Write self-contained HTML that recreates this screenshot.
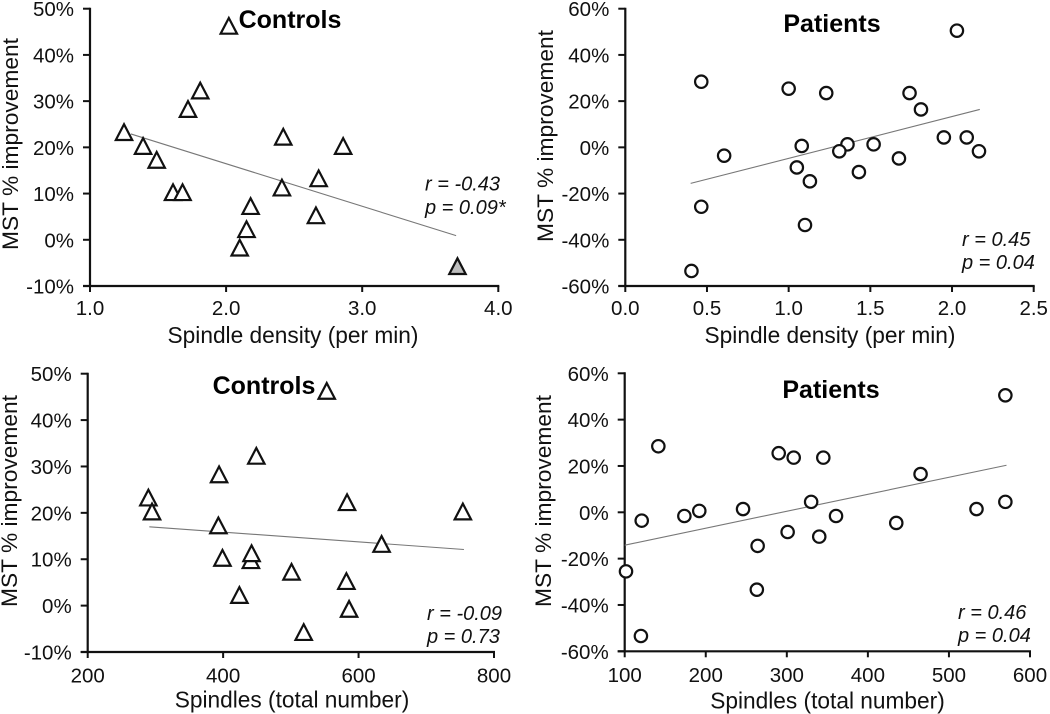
<!DOCTYPE html>
<html lang="en">
<head>
<meta charset="utf-8">
<title>Spindle measures vs MST improvement</title>
<style>
html,body{margin:0;padding:0;background:#fff;width:1050px;height:714px;overflow:hidden}
svg{display:block;font-family:"Liberation Sans",Arial,sans-serif;fill:#111}
</style>
</head>
<body>
<svg id="chart" xmlns="http://www.w3.org/2000/svg" width="1050" height="714" viewBox="0 0 1050 714"></svg>
<script>
// ---- data ----
const densityControlsX = [1.25,1.39,1.49,1.61,1.68,1.72,1.81,2.02,2.10,2.15,2.18,2.41,2.42,2.66,2.68,2.86,3.70];
const densityControlsY = [23,20,17,10,10,28,32,46,-2,2,7,11,22,5,13,20,-6];
const densityControlsTrendX = [1.30,3.69];
const densityControlsTrendY = [22.9,0.9];
const densityControlsHighlighted = [3.70];

const densityPatientsX = [2.03,0.465,1.00,1.23,1.74,1.81,1.95,2.09,2.165,1.52,1.36,1.31,1.08,0.605,1.675,1.05,1.43,1.13,0.465,1.10,0.405];
const densityPatientsY = [50.5,28.4,25.4,23.5,23.5,16.4,4.3,4.3,-1.7,1.3,1.3,-1.7,0.6,-3.6,-4.8,-8.7,-10.7,-14.7,-25.7,-33.6,-53.5];
const densityPatientsTrendX = [0.40,2.17];
const densityPatientsTrendY = [-15.6,16.4];

const totalControlsX = [289.6,295,393,399,441,442,394,449,553,586,424,501,582,583,634,754,519];
const totalControlsY = [23,20,17,10,9.5,11,28,32,46,-1,2,7,5,22,13,20,-6];
const totalControlsTrendX = [291,755.6];
const totalControlsTrendY = [17,12.1];

const totalPatientsX = [569.6,141.5,290,308.5,345,465,330,569.6,534,246,192,173.6,360.7,121,435,301,340,264,101.6,263,120];
const totalPatientsY = [50.5,28.5,25.5,23.6,23.6,16.5,4.5,4.5,1.4,1.4,0.6,-1.6,-1.6,-3.6,-4.6,-8.5,-10.5,-14.5,-25.5,-33.4,-53.4];
const totalPatientsTrendX = [100,571];
const totalPatientsTrendY = [-14.2,20.3];

const controlsYTicks = [-10,0,10,20,30,40,50];
const patientsYTicks = [-60,-40,-20,0,20,40,60];
const densityControlsXTicks = [1,2,3,4];
const densityPatientsXTicks = [0,0.5,1,1.5,2,2.5];
const totalControlsXTicks = [200,400,600,800];
const totalPatientsXTicks = [100,200,300,400,500,600];

const svg = document.getElementById('chart');
const NS = 'http://www.w3.org/2000/svg';

function make(tag, attrs, parent, text) {
  const el = document.createElementNS(NS, tag);
  for (const k in attrs) el.setAttribute(k, attrs[k]);
  if (text !== undefined) el.textContent = text;
  parent.appendChild(el);
  return el;
}

function drawPanel(p) {
  const g = make('g', {}, svg);
  
  

  const sx = v => p.left + (v - p.xMin) / (p.xMax - p.xMin) * (p.right - p.left);
  const sy = v => p.bottom - (v - p.yMin) / (p.yMax - p.yMin) * (p.bottom - p.top);

  // axes
  const xAxis = make('line', {x1:p.left-7, x2:p.right+1, y1:p.bottom, y2:p.bottom, stroke:'#111', 'stroke-width':2.2}, g);
  
  
  const yAxis = make('line', {x1:p.left, x2:p.left, y1:p.top-1, y2:p.bottom+1, stroke:'#111', 'stroke-width':2.2}, g);
  
  

  p.yTicks.forEach(v => {
    const y = sy(v);
    const t = make('line', {x1:p.left-7, x2:p.left, y1:y, y2:y, stroke:'#111', 'stroke-width':2}, g);
    
    
    const lab = make('text', {x:p.left-16, y:y+7.5, 'text-anchor':'end', 'font-size':20.5}, g, v + '%');
    
    
  });
  p.xTicks.forEach(v => {
    const x = sx(v);
    const t = make('line', {x1:x, x2:x, y1:p.bottom, y2:p.bottom+6, stroke:'#111', 'stroke-width':2}, g);
    
    
    const lab = make('text', {x:x+p.xLabelShift, y:p.bottom+p.xLabelGap, 'text-anchor':'middle', 'font-size':20.5}, g, v.toFixed(p.xDecimals));
    
    
  });

  // titles
  const xt = make('text', {x:p.xTitleX, y:p.xTitleY, 'text-anchor':'middle', 'font-size':22.7}, g, p.xTitle);
  
  
  const yt = make('text', {x:0, y:0, 'text-anchor':'middle', 'font-size':22.5, textLength:212, lengthAdjust:'spacingAndGlyphs', transform:`translate(${p.yTitleX},${p.yTitleY}) rotate(-90)`}, g, 'MST % improvement');
  
  
  const title = make('text', {x:p.titleX, y:p.titleY, 'text-anchor':'middle', 'font-size':25, 'font-weight':'bold', fill:'#000'}, g, p.title);
  
  

  // trend line
  const trend = make('line', {x1:sx(p.trendX[0]), y1:sy(p.trendY[0]), x2:sx(p.trendX[1]), y2:sy(p.trendY[1]), stroke:'#777', 'stroke-width':1.1}, g);
  
  

  // points
  p.xs.forEach((xv, i) => {
    const cx = sx(xv), cy = sy(p.ys[i]);
    let mark;
    if (p.shape === 'triangle') {
      const fill = (p.highlighted || []).includes(xv) ? '#bdbdbd' : '#fff';
      const pts = [[cx, cy-9.2],[cx-8.2, cy+6.5],[cx+8.2, cy+6.5]].map(a => a.join(',')).join(' ');
      mark = make('polygon', {points:pts, fill:fill, stroke:'#111', 'stroke-width':2.2, 'stroke-linejoin':'miter'}, g);
    } else {
      mark = make('circle', {cx:cx, cy:cy, r:6.2, fill:'#fff', stroke:'#111', 'stroke-width':2.2}, g);
    }
    
    
  });

  // stats
  const r = make('text', {x:p.statX, y:p.statY1, 'font-size':20, 'font-style':'italic'}, g, p.statR);
  
  
  const pv = make('text', {x:p.statX, y:p.statY2, 'font-size':20, 'font-style':'italic'}, g, p.statP);
  
  
}

drawPanel({
  name:'controls-density-panel', title:'Controls', xTitle:'Spindle density (per min)', shape:'triangle',
  xs:densityControlsX, ys:densityControlsY, trendX:densityControlsTrendX, trendY:densityControlsTrendY,
  highlighted:densityControlsHighlighted, xTicks:densityControlsXTicks, yTicks:controlsYTicks, xDecimals:1,
  left:90, right:498.3, top:8.7, bottom:286, xMin:1, xMax:4, yMin:-10, yMax:50,
  xLabelShift:0, xLabelGap:29, xTitleX:293, xTitleY:343, yTitleX:18, yTitleY:144,
  titleX:290, titleY:28, statX:425, statY1:190.5, statY2:214, statR:'r = -0.43', statP:'p = 0.09*'
});
drawPanel({
  name:'patients-density-panel', title:'Patients', xTitle:'Spindle density (per min)', shape:'circle',
  xs:densityPatientsX, ys:densityPatientsY, trendX:densityPatientsTrendX, trendY:densityPatientsTrendY,
  xTicks:densityPatientsXTicks, yTicks:patientsYTicks, xDecimals:1,
  left:625.3, right:1033.7, top:8.7, bottom:286, xMin:0, xMax:2.5, yMin:-60, yMax:60,
  xLabelShift:0, xLabelGap:29, xTitleX:830, xTitleY:343, yTitleX:553, yTitleY:136,
  titleX:832, titleY:32, statX:962, statY1:246, statY2:269, statR:'r = 0.45', statP:'p = 0.04'
});
drawPanel({
  name:'controls-total-panel', title:'Controls', xTitle:'Spindles (total number)', shape:'triangle',
  xs:totalControlsX, ys:totalControlsY, trendX:totalControlsTrendX, trendY:totalControlsTrendY,
  xTicks:totalControlsXTicks, yTicks:controlsYTicks, xDecimals:0,
  left:87.7, right:494, top:373.7, bottom:652, xMin:200, xMax:800, yMin:-10, yMax:50,
  xLabelShift:0, xLabelGap:30.5, xTitleX:292, xTitleY:707.5, yTitleX:17, yTitleY:501,
  titleX:264, titleY:394, statX:427, statY1:620, statY2:643, statR:'r = -0.09', statP:'p = 0.73'
});
drawPanel({
  name:'patients-total-panel', title:'Patients', xTitle:'Spindles (total number)', shape:'circle',
  xs:totalPatientsX, ys:totalPatientsY, trendX:totalPatientsTrendX, trendY:totalPatientsTrendY,
  xTicks:totalPatientsXTicks, yTicks:patientsYTicks, xDecimals:0,
  left:624.7, right:1030, top:373.3, bottom:651.3, xMin:100, xMax:600, yMin:-60, yMax:60,
  xLabelShift:0, xLabelGap:30.5, xTitleX:827.5, xTitleY:708.5, yTitleX:551, yTitleY:501,
  titleX:831, titleY:398, statX:958, statY1:619, statY2:642, statR:'r = 0.46', statP:'p = 0.04'
});
</script>
</body>
</html>
